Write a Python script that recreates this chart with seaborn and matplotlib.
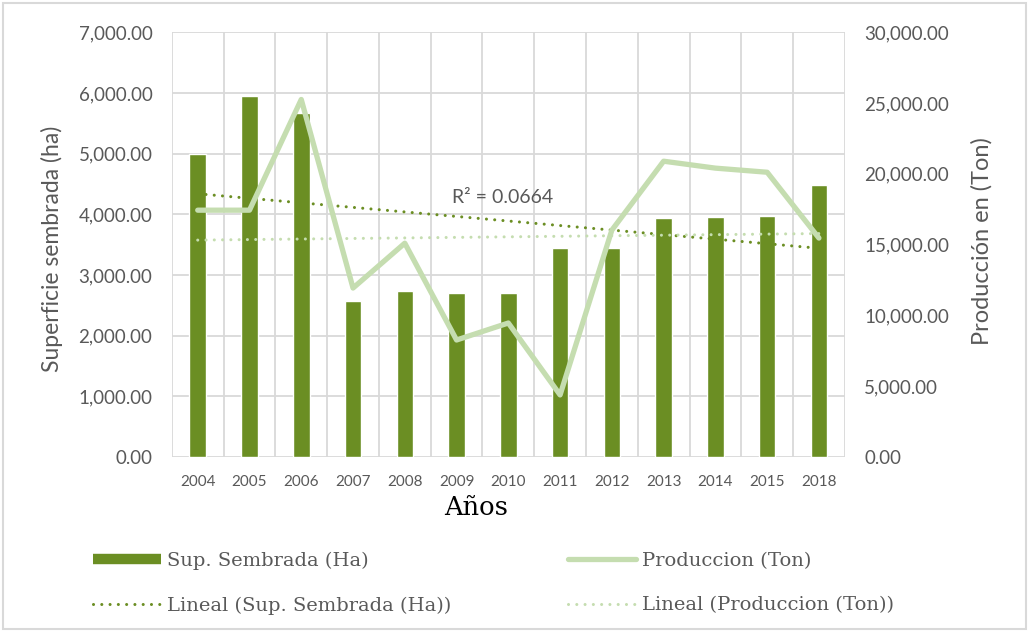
import matplotlib
matplotlib.use("Agg")
import matplotlib.pyplot as plt
from matplotlib.lines import Line2D
from matplotlib.patches import Rectangle
from matplotlib.ticker import FuncFormatter, MultipleLocator
import numpy as np
import pandas as pd
import seaborn as sns

# datos
years = ["2004", "2005", "2006", "2007", "2008", "2009", "2010",
         "2011", "2012", "2013", "2014", "2015", "2018"]
sup_sembrada = [5000, 5950, 5670, 2570, 2735, 2700, 2700,
                3443, 3443, 3937, 3953, 3970, 4481]
produccion = [17430, 17430, 25250, 11930, 15100, 8260, 9460,
              4380, 16020, 20890, 20400, 20110, 15460]
r2_label = "R² = 0.0664"

sns.set_style("white")
plt.rcParams["font.family"] = ["Lato", "DejaVu Sans"]

df = pd.DataFrame({"anio": years, "sup": sup_sembrada, "prod": produccion})

verde = "#6B8E23"
verde_claro = "#C5DDB0"
gris = "#595959"
gris_grid = "#D9D9D9"
serif = ["DejaVu Serif"]

fig = plt.figure(figsize=(10.29, 6.32), dpi=100)
ax = fig.add_axes([0.167, 0.277, 0.654, 0.672])

sns.barplot(data=df, x="anio", y="sup", color=verde, width=0.32,
            saturation=1, ax=ax, zorder=2)

# tendencia lineal (superficie)
pos = np.arange(len(years))
coef_sup = np.polyfit(pos, df["sup"], 1)
tr_sup, = ax.plot(pos, np.polyval(coef_sup, pos), color=verde, lw=2.2,
                  linestyle=(0, (0.01, 2.7)), dash_capstyle="round", zorder=3,
                  label="Lineal (Sup. Sembrada (Ha))")

ax.set_xlim(-0.5, len(years) - 0.5)
ax.set_ylim(0, 7000)
ax.yaxis.set_major_locator(MultipleLocator(1000))
ax.yaxis.set_major_formatter(FuncFormatter(lambda v, p: f"{v:,.2f}"))
ax.set_xticks(np.arange(-0.5, len(years), 1), minor=True)
ax.grid(axis="y", which="major", color=gris_grid, lw=1.3)
ax.grid(axis="x", which="minor", color=gris_grid, lw=1.3)
ax.set_axisbelow(True)
for s in ax.spines.values():
    s.set_visible(False)
ax.tick_params(axis="y", length=0, labelsize=13.5, colors=gris, pad=14)
ax.tick_params(axis="x", which="both", length=0, labelsize=11, colors=gris, pad=13)
ax.set_ylabel("Superficie sembrada (ha)", fontsize=16.5, color=gris, va="center")
ax.yaxis.set_label_coords(-0.178, 0.489)
ax.set_xlabel("Años", fontsize=18.5, color="black", family=serif, va="center")
ax.xaxis.set_label_coords(0.452, -0.118)

# eje secundario
ax2 = ax.twinx()
sns.lineplot(x=pos, y=df["prod"], color=verde_claro, lw=3.8, ax=ax2,
             solid_joinstyle="round", solid_capstyle="round",
             label="Produccion (Ton)", legend=False)
coef_prod = np.polyfit(pos, df["prod"], 1)
tr_prod, = ax2.plot(pos, np.polyval(coef_prod, pos), color=verde_claro, lw=2.2,
                    linestyle=(0, (0.01, 2.7)), dash_capstyle="round",
                    label="Lineal (Produccion (Ton))")
ax2.set_ylim(0, 30000)
ax2.yaxis.set_major_locator(MultipleLocator(5000))
ax2.yaxis.set_major_formatter(FuncFormatter(lambda v, p: f"{v:,.2f}"))
ax2.grid(False)
for s in ax2.spines.values():
    s.set_visible(False)
ax2.tick_params(axis="y", length=0, labelsize=13.5, colors=gris, pad=14)
ax2.set_ylabel("Producción en (Ton)", fontsize=17, color=gris, va="center")
ax2.yaxis.set_label_coords(1.2036, 0.508)

ax.text(0.492, 0.612, r2_label, transform=ax.transAxes, ha="center",
        va="center", fontsize=14, color=gris)

# leyenda
h_bar = Line2D([], [], color=verde, lw=7.5, solid_capstyle="butt")
h_prod = ax2.get_lines()[0]
fig.legend(handles=[h_bar, tr_sup, h_prod, tr_prod],
           labels=["Sup. Sembrada (Ha)", "Lineal (Sup. Sembrada (Ha))",
                   "Produccion (Ton)", "Lineal (Produccion (Ton))"],
           ncol=2, loc="upper left", bbox_to_anchor=(0.081, 0.143),
           bbox_transform=fig.transFigure, frameon=False,
           prop={"family": serif, "size": 14}, labelcolor=gris,
           handlelength=3.5, handletextpad=0.3, columnspacing=6.0,
           labelspacing=1.38, borderpad=0)

fig.patches.append(Rectangle((0.003, 0.004), 0.994, 0.992, transform=fig.transFigure,
                             fill=False, edgecolor=gris_grid, lw=1.5))

fig.savefig("out.png", dpi=100)
